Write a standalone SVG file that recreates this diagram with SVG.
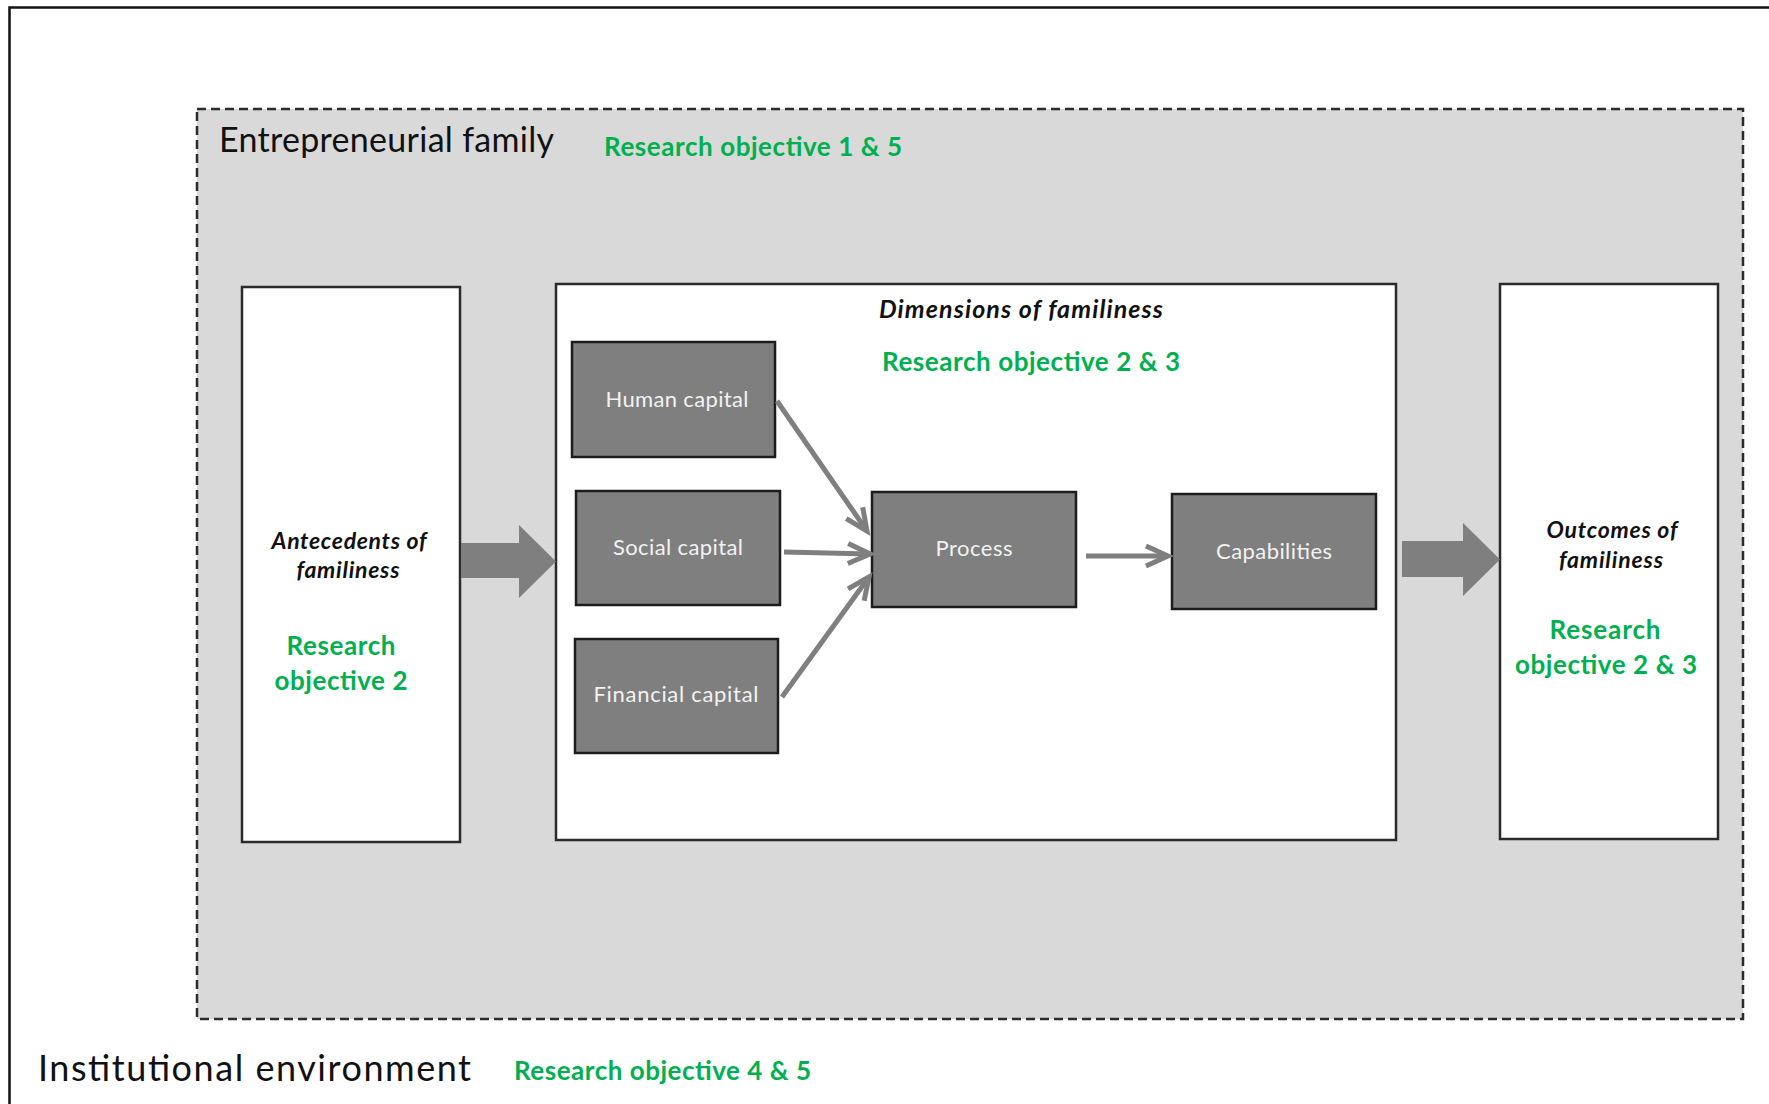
<svg xmlns="http://www.w3.org/2000/svg" width="1769" height="1104" viewBox="0 0 1769 1104">
  <style>
    .frame { fill: none; stroke: #111; stroke-width: 2.5; }
    .zone { fill: #d9d9d9; stroke: #2b2b2b; stroke-width: 2.5; stroke-dasharray: 9 5; }
    .panel { fill: #ffffff; stroke: #2b2b2b; stroke-width: 2.5; }
    .dim { fill: #7f7f7f; stroke: #1c1c1c; stroke-width: 2.5; }
    .block { fill: #7f7f7f; stroke: none; }
    .link { fill: none; stroke: #7f7f7f; stroke-width: 5; marker-end: url(#chev); }
    .lbl { font-family: Lato, "Open Sans", "Liberation Sans", sans-serif; }
    .head { font-size: 34px; fill: #111; }
    .env { font-size: 36px; fill: #111; }
    .goal { font-size: 26px; font-weight: bold; fill: #00b050; }
    .title { font-size: 23px; font-weight: bold; font-style: italic; fill: #111; }
    .title-lg { font-size: 25px; }
    .node { font-size: 22px; fill: #f2f2f2; text-anchor: middle; }
    .mid { text-anchor: middle; }
  </style>
  <defs>
    <marker id="chev" markerUnits="userSpaceOnUse" markerWidth="34" markerHeight="34" viewBox="-28 -17 34 34" refX="0" refY="0" orient="auto">
      <path d="M-22,-10 L0,0 L-22,10" fill="none" stroke="#7f7f7f" stroke-width="5" stroke-linejoin="miter"/>
    </marker>
  </defs>

  <!-- institutional environment frame (open to the right and bottom) -->
  <path class="frame" d="M9.5 1104 V7.5 H1769"/>

  <!-- entrepreneurial family zone -->
  <g id="entrepreneurial-family">
    <rect class="zone" x="197" y="109" width="1546" height="910"/>
    <text class="lbl head" x="219" y="152" textLength="335">Entrepreneurial family</text>
    <text class="lbl goal" x="604" y="156" textLength="298">Research objective 1 &amp; 5</text>
  </g>

  <g id="institutional-environment">
    <text class="lbl env" x="38" y="1081" textLength="433">Institutional environment</text>
    <text class="lbl goal" x="514" y="1080" textLength="297">Research objective 4 &amp; 5</text>
  </g>

  <g id="antecedents">
    <rect class="panel" x="242" y="287" width="218" height="555"/>
    <text class="lbl title mid" x="349" y="549" textLength="155">Antecedents of</text>
    <text class="lbl title mid" x="348" y="578" textLength="103">familiness</text>
    <text class="lbl goal mid" x="341" y="655" textLength="109">Research</text>
    <text class="lbl goal mid" x="341" y="690" textLength="133">objective 2</text>
  </g>

  <g id="dimensions">
    <rect class="panel" x="556" y="284" width="840" height="556"/>
    <text class="lbl title title-lg" x="879" y="318" textLength="284">Dimensions of familiness</text>
    <text class="lbl goal" x="882" y="371" textLength="298">Research objective 2 &amp; 3</text>
  </g>

  <g id="outcomes">
    <rect class="panel" x="1500" y="284" width="218" height="555"/>
    <text class="lbl title mid" x="1612" y="538" textLength="131">Outcomes of</text>
    <text class="lbl title mid" x="1611" y="568" textLength="104">familiness</text>
    <text class="lbl goal mid" x="1605" y="639" textLength="111">Research</text>
    <text class="lbl goal mid" x="1606" y="674" textLength="182">objective 2 &amp; 3</text>
  </g>

  <g id="human-capital">
    <rect class="dim" x="572" y="342" width="203" height="115"/>
    <text class="lbl node" x="677" y="407" textLength="143">Human capital</text>
  </g>
  <g id="social-capital">
    <rect class="dim" x="576" y="491" width="204" height="114"/>
    <text class="lbl node" x="678" y="555" textLength="130">Social capital</text>
  </g>
  <g id="financial-capital">
    <rect class="dim" x="575" y="639" width="203" height="114"/>
    <text class="lbl node" x="676" y="702" textLength="165">Financial capital</text>
  </g>
  <g id="process">
    <rect class="dim" x="872" y="492" width="204" height="115"/>
    <text class="lbl node" x="974" y="556" textLength="77">Process</text>
  </g>
  <g id="capabilities">
    <rect class="dim" x="1172" y="494" width="204" height="115"/>
    <text class="lbl node" x="1274" y="559" textLength="116">Capabilities</text>
  </g>

  <g id="connectors">
    <path class="block" d="M461 543 H519 V525 L556 561.5 L519 598 V578 H461 Z"/>
    <path class="block" d="M1402 541 H1463 V523 L1500 559.5 L1463 596 V577 H1402 Z"/>
    <line class="link" x1="777" y1="401" x2="867" y2="531"/>
    <line class="link" x1="784" y1="552" x2="870" y2="554"/>
    <line class="link" x1="782" y1="697" x2="869" y2="577"/>
    <line class="link" x1="1086" y1="556" x2="1168" y2="556"/>
  </g>
</svg>
